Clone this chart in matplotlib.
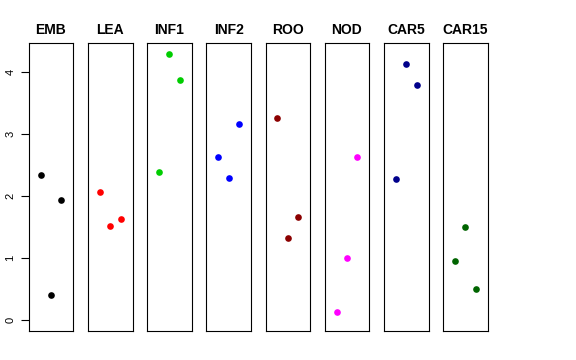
import matplotlib
matplotlib.use("Agg")
import matplotlib.pyplot as plt

# one panel per tissue, three replicate values each
tissues = ["EMB", "LEA", "INF1", "INF2", "ROO", "NOD", "CAR5", "CAR15"]
colors = ["black", "#FF0000", "#00CD00", "#0000FF", "#8B0000", "#FF00FF", "#00008B", "#006400"]
replicate = [1, 2, 3]
values = [
    [2.33, 0.40, 1.94],
    [2.06, 1.51, 1.63],
    [2.38, 4.29, 3.86],
    [2.62, 2.28, 3.16],
    [3.26, 1.32, 1.66],
    [0.13, 1.00, 2.63],
    [2.27, 4.12, 3.79],
    [0.95, 1.49, 0.50],
]

plt.rcParams['font.family'] = ['Liberation Sans', 'DejaVu Sans']

W, H = 576, 360
fig = plt.figure(figsize=(W / 100, H / 100), dpi=100)

left0, step, width = 28.7, 59.2, 44.6
top, bottom = 43.3, 331.0

for i, (name, col, vals) in enumerate(zip(tissues, colors, values)):
    ax = fig.add_axes([(left0 + i * step) / W, (H - bottom) / H,
                       width / W, (bottom - top) / H])
    ax.plot(replicate, vals, 'o', color=col, markersize=4.8, markeredgewidth=0)
    ax.set_xlim(-0.16, 4.16)
    ax.set_ylim(-0.177, 4.455)
    ax.set_xticks([])
    for sp in ax.spines.values():
        sp.set_linewidth(0.8)
    ax.set_title(name, fontsize=10, fontweight='bold', pad=7)
    if i == 0:
        ax.set_yticks([0, 1, 2, 3, 4])
        ax.tick_params(axis='y', length=5.5, width=0.8, labelsize=8, pad=4)
        for lab in ax.get_yticklabels():
            lab.set_rotation(90)
            lab.set_va('center')
    else:
        ax.set_yticks([])

fig.savefig("out.png", dpi=100)
